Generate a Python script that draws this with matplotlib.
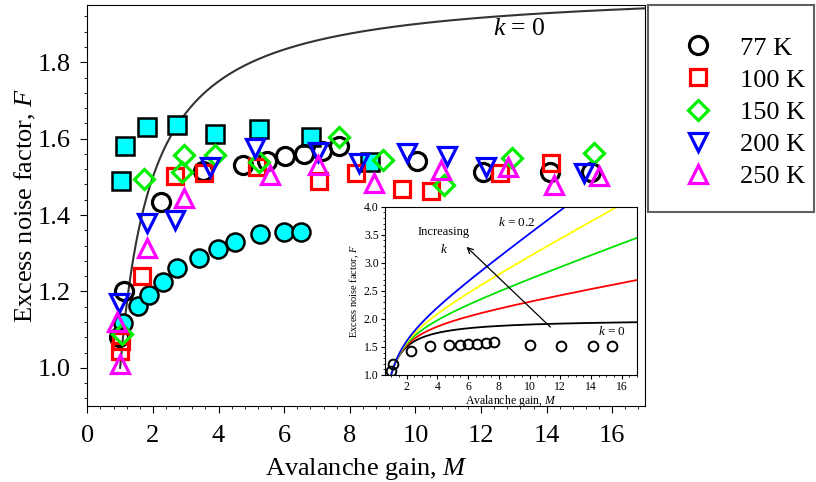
import numpy as np
import matplotlib
matplotlib.use('Agg')
import matplotlib.pyplot as plt
from matplotlib.ticker import MultipleLocator

plt.rcParams['font.family'] = ['Liberation Serif', 'DejaVu Serif']
plt.rcParams['mathtext.fontset'] = 'custom'
plt.rcParams['mathtext.rm'] = 'Liberation Serif'
plt.rcParams['mathtext.it'] = 'Liberation Serif:italic'

# datos de ruido en exceso (M, F) por temperatura
M_77 = [0.97, 1.12, 2.26, 3.52, 4.75, 5.48, 6.03, 6.60, 7.16, 7.66, 10.04, 12.05, 14.10, 15.36]
F_77 = [1.08, 1.20, 1.435, 1.515, 1.532, 1.542, 1.554, 1.560, 1.568, 1.580, 1.542, 1.512, 1.512, 1.512]

M_100 = [1.00, 1.02, 1.66, 2.68, 3.57, 5.17, 7.05, 8.20, 9.60, 10.49, 12.58, 14.13]
F_100 = [1.044, 1.070, 1.240, 1.503, 1.510, 1.526, 1.488, 1.510, 1.469, 1.464, 1.510, 1.536]

M_150 = [1.05, 1.74, 2.88, 2.96, 3.90, 5.22, 7.66, 9.01, 10.87, 12.93, 15.45]
F_150 = [1.088, 1.495, 1.512, 1.558, 1.558, 1.540, 1.603, 1.545, 1.479, 1.549, 1.562]

M_200 = [0.98, 1.83, 2.66, 3.73, 5.12, 7.02, 8.27, 9.75, 10.97, 12.14, 15.15]
F_200 = [1.170, 1.379, 1.386, 1.527, 1.575, 1.564, 1.536, 1.562, 1.554, 1.527, 1.510]

M_250 = [1.00, 0.90, 1.81, 2.95, 5.56, 7.02, 8.75, 10.79, 12.81, 14.23, 15.60]
F_250 = [1.010, 1.120, 1.314, 1.445, 1.506, 1.532, 1.484, 1.518, 1.527, 1.479, 1.501]

# datos de referencia (cian)
M_sq = [1.02, 1.15, 1.81, 2.73, 3.89, 5.24, 6.81, 8.62]
F_sq = [1.490, 1.580, 1.630, 1.635, 1.613, 1.625, 1.605, 1.540]
M_ci = [1.10, 1.53, 1.88, 2.32, 2.73, 3.39, 3.98, 4.51, 5.27, 6.01, 6.52]
F_ci = [1.118, 1.161, 1.190, 1.225, 1.262, 1.288, 1.310, 1.330, 1.351, 1.356, 1.356]

# valores de k para el modelo de McIntyre
k_vals = [0, 0.05, 0.1, 0.15, 0.2]
k_cols = ['black', '#ff0000', '#00e000', '#ffff00', '#0000ff']

def mcintyre(M, k):
    return k * M + (1 - k) * (2 - 1 / M)

fig = plt.figure(figsize=(8.16, 4.82), dpi=100)
ax = fig.add_axes([0.107, 0.1577, 0.6835, 0.832])

M = np.linspace(1, 17, 400)
ax.plot(M, mcintyre(M, 0), color='#333333', lw=1.5, zorder=2)

mew = 2.3
ax.plot(M_sq, F_sq, 's', ms=13, mfc='#00ffff', mec='black', mew=1.8, zorder=3)
ax.plot(M_ci, F_ci, 'o', ms=13, mfc='#00ffff', mec='black', mew=1.8, zorder=3)
series = [
    (M_77, F_77, 'o', 'black', 13, '77 K'),
    (M_100, F_100, 's', '#ff0000', 12, '100 K'),
    (M_150, F_150, 'D', '#00ee00', 10.5, '150 K'),
    (M_200, F_200, 'v', '#0000ff', 13, '200 K'),
    (M_250, F_250, '^', '#ff00ff', 13, '250 K'),
]
handles = []
for x, y, mk, c, s, lab in series:
    h, = ax.plot(x, y, mk, ms=s, mfc='none', mec=c, mew=mew, label=lab, zorder=4)
    handles.append(h)

ax.text(13.16, 1.886, '$k$ = 0', fontsize=18.5, ha='center', va='center')

ax.set_xlim(0, 17)
ax.set_ylim(0.9, 1.95)
ax.xaxis.set_major_locator(MultipleLocator(2))
ax.xaxis.set_minor_locator(MultipleLocator(0.4))
ax.yaxis.set_major_locator(MultipleLocator(0.2))
ax.yaxis.set_minor_locator(MultipleLocator(0.04))
ax.tick_params(which='major', direction='out', length=5, labelsize=19)
ax.tick_params(which='minor', direction='out', length=2.5)
ax.tick_params(axis='x', which='major', pad=9)
ax.tick_params(axis='y', which='major', pad=7)
ax.tick_params(top=False, right=False)
ax.set_yticks([1.0, 1.2, 1.4, 1.6, 1.8])
ax.set_yticklabels(['1.0', '1.2', '1.4', '1.6', '1.8'])
ax.set_xlabel('Avalanche gain, $M$', fontsize=19, labelpad=6)
ax.set_ylabel('Excess noise factor, $F$', fontsize=19, labelpad=0)

# recuadro con el modelo
ins = fig.add_axes([0.4718, 0.222, 0.309, 0.349])
Mi = np.linspace(1, 17, 400)
for k, c in zip(k_vals, k_cols):
    ins.plot(Mi, mcintyre(Mi, k), color=c, lw=1.3)
ins.plot(M_77, F_77, 'o', ms=7, mfc='none', mec='black', mew=1.4)
ins.set_xlim(0.6, 17)
ins.set_ylim(1.0, 4.0)
ins.xaxis.set_major_locator(MultipleLocator(2))
ins.xaxis.set_minor_locator(MultipleLocator(0.5))
ins.yaxis.set_major_locator(MultipleLocator(0.5))
ins.yaxis.set_minor_locator(MultipleLocator(0.1))
ins.set_xticks([2, 4, 6, 8, 10, 12, 14, 16])
ins.tick_params(which='major', direction='out', length=3, labelsize=8.5, pad=1.5)
ins.tick_params(which='minor', direction='out', length=1.5)
ins.set_xlabel('Avalanche gain, $M$', fontsize=8.5, labelpad=0)
ins.set_ylabel('Excess noise factor, $F$', fontsize=7.5, labelpad=2)
ins.text(9.16, 3.72, '$k$ = 0.2', fontsize=9.5, ha='center', va='center')
ins.text(15.35, 1.77, '$k$ = 0', fontsize=9.5, ha='center', va='center')
ins.text(4.42, 3.55, 'Increasing', fontsize=9, ha='center', va='center')
ins.text(4.42, 3.23, '$k$', fontsize=9.5, ha='center', va='center')
ins.annotate('', xy=(5.77, 3.32), xytext=(11.49, 1.82),
             arrowprops=dict(arrowstyle='->', color='black', lw=0.9))

# leyenda en su propio recuadro
lax = fig.add_axes([0.794, 0.56, 0.203, 0.429])
lax.set_xticks([])
lax.set_yticks([])
for sp in lax.spines.values():
    sp.set_color('#606060')
    sp.set_linewidth(1.5)
lax.legend(handles=handles, loc='upper left', bbox_to_anchor=(0.125, 0.915),
           frameon=False, fontsize=19, labelspacing=0.33, handletextpad=1.0,
           handlelength=1.2, borderpad=0)

fig.savefig('out.png', dpi=100)
